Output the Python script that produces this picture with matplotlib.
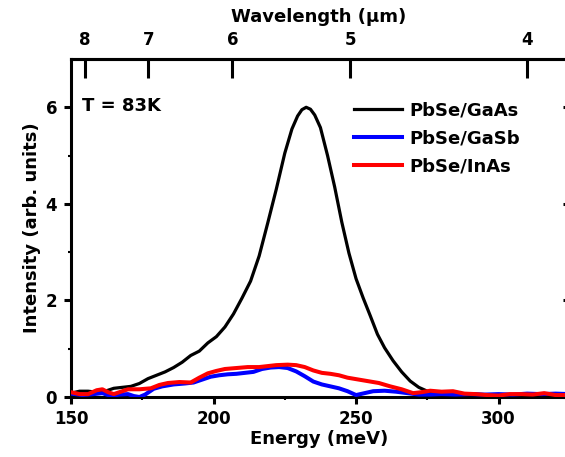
import matplotlib
matplotlib.use("Agg")
import matplotlib.pyplot as plt
import numpy as np

plt.rcParams['font.family'] = ['DejaVu Sans']
plt.rcParams['font.weight'] = 'bold'

# PbSe/GaAs (black)
gaas_e = [150, 153, 156, 159, 162, 165, 168, 171, 174, 177, 180, 183, 186, 189,
          192, 195, 198, 201, 204, 207, 210, 213, 216, 219, 222, 225, 227.5, 229.5,
          231, 232.5, 234, 235.5, 237.5, 240, 242.5, 245, 247.5, 250, 252.5, 255,
          257.5, 260, 263, 266, 269, 272, 275, 280, 285, 290, 295, 300, 305, 310,
          315, 320, 325]
gaas_i = [0.08, 0.12, 0.12, 0.10, 0.12, 0.18, 0.20, 0.22, 0.28, 0.38, 0.45, 0.52,
          0.61, 0.72, 0.86, 0.95, 1.12, 1.25, 1.45, 1.72, 2.05, 2.40, 2.92, 3.60,
          4.30, 5.05, 5.55, 5.82, 5.95, 6.00, 5.96, 5.84, 5.58, 5.00, 4.35, 3.62,
          2.98, 2.45, 2.05, 1.68, 1.30, 1.02, 0.75, 0.52, 0.33, 0.20, 0.12, 0.09,
          0.08, 0.06, 0.05, 0.04, 0.05, 0.04, 0.05, 0.04, 0.04]

# PbSe/GaSb (blue)
gasb_e = [150, 154, 158, 161, 164, 167, 170, 172, 174, 176, 179, 182, 186, 190,
          193, 196, 199, 202, 205, 208, 211, 214, 217, 220, 223, 226, 229, 232,
          235, 238, 241, 244, 247, 250, 253, 256, 260, 264, 268, 272, 276, 280,
          285, 290, 295, 300, 305, 310, 315, 320, 325]
gasb_i = [0.07, 0.04, 0.06, 0.08, 0.02, 0.05, 0.06, 0.02, 0.00, 0.05, 0.17, 0.22,
          0.26, 0.28, 0.30, 0.36, 0.42, 0.45, 0.47, 0.48, 0.50, 0.52, 0.58, 0.61,
          0.62, 0.60, 0.53, 0.43, 0.32, 0.26, 0.22, 0.18, 0.12, 0.04, 0.08, 0.12,
          0.13, 0.11, 0.08, 0.05, 0.05, 0.06, 0.05, 0.06, 0.05, 0.06, 0.05, 0.07,
          0.06, 0.07, 0.06]

# PbSe/InAs (red)
inas_e = [150, 153, 156, 159, 161, 163, 165, 167, 170, 174, 178, 181, 184, 188,
          192, 195, 198, 201, 204, 208, 212, 216, 219, 222, 226, 229, 232, 235,
          238, 241, 244, 247, 250, 254, 258, 262, 266, 270, 273, 276, 280, 284,
          288, 292, 296, 300, 304, 308, 312, 316, 320, 325]
inas_i = [0.10, 0.06, 0.06, 0.14, 0.16, 0.10, 0.06, 0.10, 0.16, 0.16, 0.18, 0.25,
          0.29, 0.31, 0.30, 0.40, 0.49, 0.54, 0.58, 0.60, 0.62, 0.62, 0.64, 0.66,
          0.67, 0.66, 0.62, 0.55, 0.50, 0.48, 0.45, 0.40, 0.37, 0.33, 0.29, 0.22,
          0.16, 0.08, 0.10, 0.13, 0.11, 0.12, 0.07, 0.06, 0.04, 0.03, 0.06, 0.06,
          0.05, 0.08, 0.04, 0.04]

wl_ticks = [8, 7, 6, 5, 4]
HC = 1239.84  # meV * um

fig = plt.figure(figsize=(5.65, 4.57), dpi=100)
ax = fig.add_axes([71/565, 60/457, 496/565, 338/457])

ax.plot(gaas_e, gaas_i, color='black', lw=2.3, label='PbSe/GaAs', zorder=3,
        solid_joinstyle='round')
ax.plot(gasb_e, gasb_i, color='#0000ff', lw=2.9, label='PbSe/GaSb', zorder=4,
        solid_joinstyle='round')
ax.plot(inas_e, inas_i, color='#ff0000', lw=2.9, label='PbSe/InAs', zorder=5,
        solid_joinstyle='round')

ax.set_xlim(150, 324)
ax.set_ylim(0, 7)
ax.set_xticks([150, 200, 250, 300])
ax.set_xticks([175, 225, 275], minor=True)
ax.set_yticks([0, 2, 4, 6])
ax.set_yticks([1, 3, 5], minor=True)

for s in ax.spines.values():
    s.set_linewidth(2.2)

ax.tick_params(axis='x', which='major', direction='out', length=5, width=2.2,
               labelsize=12, pad=4.5, top=False)
ax.tick_params(axis='x', which='minor', direction='out', length=2.5, width=1.5, top=False)
ax.tick_params(axis='y', which='major', direction='out', length=5, width=2.2,
               labelsize=12, pad=5, right=True)
ax.tick_params(axis='y', which='minor', direction='out', length=2.5, width=1.5)
for t in ax.yaxis.get_major_ticks():
    t.tick2line.set_marker(matplotlib.lines.TICKLEFT)
    t.tick2line.set_markersize(3)

ax.set_xlabel('Energy (meV)', fontsize=13, fontweight='bold', labelpad=1)
ax.set_ylabel('Intensity (arb. units)', fontsize=13, fontweight='bold', labelpad=3)

top = ax.secondary_xaxis('top', functions=(lambda e: HC / np.asarray(e, float),
                                           lambda w: HC / np.asarray(w, float)))
top.set_xticks(wl_ticks)
top.set_xticklabels([str(w) for w in wl_ticks])
top.spines['top'].set_linewidth(2.2)
top.tick_params(direction='in', length=13.5, width=2.2, labelsize=12, pad=7)
top.set_xlabel('Wavelength (\u00b5m)', fontsize=13, fontweight='bold', labelpad=7)

ax.text(0.022, 0.86, 'T = 83K', transform=ax.transAxes, fontsize=13,
        fontweight='bold', va='center', ha='left')

leg = ax.legend(loc='upper left', bbox_to_anchor=(0.555, 0.895), frameon=False,
                fontsize=13, handlelength=2.7, handletextpad=0.4,
                labelspacing=0.55, borderaxespad=0)
for t in leg.get_texts():
    t.set_fontweight('bold')

fig.savefig('out.png', dpi=100)
